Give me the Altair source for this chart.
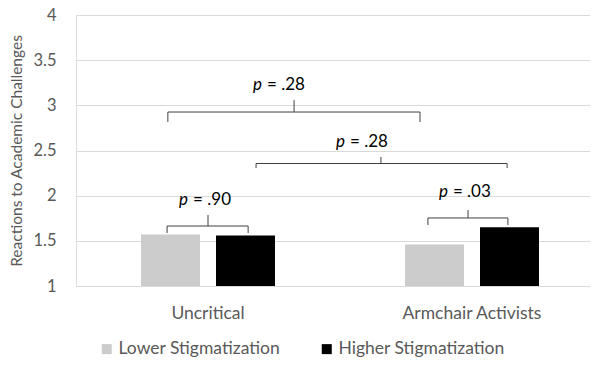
import altair as alt
import pandas as pd

categories = ["Uncritical", "Armchair Activists"]
series = ["Lower Stigmatization", "Higher Stigmatization"]
lower_vals = [1.57, 1.46]
higher_vals = [1.56, 1.65]
colors = ["#cccccc", "#000000"]

# significance brackets (x in group units: 0..2 across the plot, y in data units)
p_labels = [".28", ".28", ".90", ".03"]
br_left = [0.348, 0.682, 0.345, 1.333]
br_right = [1.303, 1.633, 0.652, 1.636]
br_mid = [0.826, 1.155, 0.500, 1.485]
br_y = [2.926, 2.356, 1.664, 1.753]
br_leg = [2.816, 2.306, 1.587, 1.675]
br_top = [3.06, 2.428, 1.786, 1.841]
lab_x = [0.716, 1.030, 0.436, 1.420]
lab_y = [3.225, 2.594, 1.952, 2.04]

FONT = "Lato"
TXT = "#595959"
FULL = 528  # full plot width (right part cut by the window, as in the original)

rows = []
for i, c in enumerate(categories):
    rows.append({"cat": c, "series": series[0], "val": lower_vals[i]})
    rows.append({"cat": c, "series": series[1], "val": higher_vals[i]})
bars_df = pd.DataFrame(rows)

br_df = pd.DataFrame({
    "l": br_left, "r": br_right, "m": br_mid, "y": br_y, "leg": br_leg,
    "top": br_top, "lx": lab_x, "ly": lab_y, "p": p_labels,
})
br_df["eq"] = "= " + br_df["p"]

yscale = alt.Scale(domain=[1, 4], zero=False, nice=False)

bars = alt.Chart(bars_df).mark_bar().encode(
    x=alt.X("cat:N", sort=categories, title=None,
            scale=alt.Scale(paddingInner=0, paddingOuter=0, range=[0, FULL]),
            axis=alt.Axis(labelFont=FONT, labelFontSize=17.5, labelColor=TXT,
                          labelAngle=0, ticks=False, domain=False, labelPadding=18)),
    xOffset=alt.XOffset("series:N", sort=series,
                        scale=alt.Scale(paddingInner=0.2133, paddingOuter=0.867)),
    y=alt.Y("val:Q", scale=yscale, title="Reactions to Academic Challenges",
            axis=alt.Axis(values=[1, 1.5, 2, 2.5, 3, 3.5, 4], format="~g",
                          labelFont=FONT, labelFontSize=16.5, labelColor=TXT,
                          titleFont=FONT, titleFontSize=15.5, titleColor=TXT,
                          titleFontWeight="normal", ticks=False, domain=False,
                          labelPadding=20, titlePadding=8,
                          grid=True, gridColor="#d9d9d9", gridWidth=1)),
    y2=alt.datum(1),
    color=alt.Color("series:N", sort=series,
                    scale=alt.Scale(domain=series, range=colors),
                    legend=alt.Legend(title=None, orient="none", direction="horizontal",
                                      legendX=22, legendY=325,
                                      symbolType="square", symbolSize=100,
                                      symbolStrokeWidth=0, labelLimit=400,
                                      labelFont=FONT, labelFontSize=17.5, labelColor=TXT,
                                      labelOffset=3, columnPadding=37)),
)

bx = alt.Scale(domain=[0, 2], nice=False, zero=False, range=[0, FULL])
base = alt.Chart(br_df)
stroke = "#404040"

hline = base.mark_rule(color=stroke, strokeWidth=1).encode(
    x=alt.X("l:Q", scale=bx, axis=None), x2="r:Q", y=alt.Y("y:Q", scale=yscale))
leg_l = base.mark_rule(color=stroke, strokeWidth=1).encode(
    x=alt.X("l:Q", scale=bx, axis=None), y=alt.Y("y:Q", scale=yscale), y2="leg:Q")
leg_r = base.mark_rule(color=stroke, strokeWidth=1).encode(
    x=alt.X("r:Q", scale=bx, axis=None), y=alt.Y("y:Q", scale=yscale), y2="leg:Q")
tick = base.mark_rule(color=stroke, strokeWidth=1).encode(
    x=alt.X("m:Q", scale=bx, axis=None), y=alt.Y("y:Q", scale=yscale), y2="top:Q")
ptxt = base.mark_text(font=FONT, fontSize=17, fontStyle="italic", color="#000000",
                      align="right", baseline="middle", dx=-3).encode(
    x=alt.X("lx:Q", scale=bx, axis=None), y=alt.Y("ly:Q", scale=yscale),
    text=alt.value("p"))
eqtxt = base.mark_text(font=FONT, fontSize=17, color="#000000",
                       align="left", baseline="middle", dx=2).encode(
    x=alt.X("lx:Q", scale=bx, axis=None), y=alt.Y("ly:Q", scale=yscale),
    text="eq:N")

brackets = alt.layer(hline, leg_l, leg_r, tick, ptxt, eqtxt)

chart = alt.layer(bars, brackets).resolve_scale(x="independent").properties(
    width=514, height=271,
    autosize=alt.AutoSizeParams(type="none"),
    padding={"left": 68, "top": 7, "right": 0, "bottom": 71},
).configure_view(stroke=None).configure(background="white")

chart.save("out.html", embed_options={"renderer": "svg", "actions": False})
